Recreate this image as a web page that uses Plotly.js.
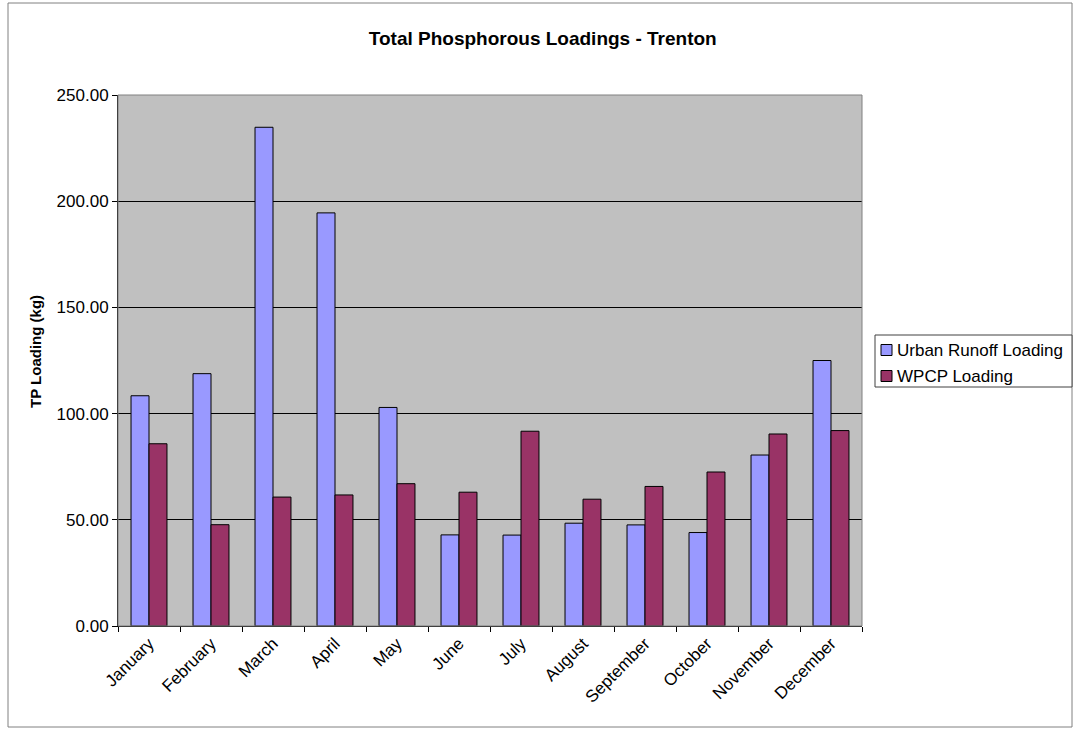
<!DOCTYPE html>
<html>
<head>
<meta charset="utf-8">
<script src="https://cdn.plot.ly/plotly-3.0.1.min.js"></script>
<style>html,body{margin:0;padding:0;background:#fff;}#chart{width:1079px;height:730px;}</style>
</head>
<body>
<div id="chart"></div>
<script>
const months = ["January","February","March","April","May","June","July","August","September","October","November","December"];
const urbanRunoff = [108.4, 118.8, 234.8, 194.5, 102.9, 42.9, 42.8, 48.4, 47.6, 44.0, 80.5, 125.0];
const wpcp = [85.8, 47.7, 60.7, 61.7, 67.0, 63.0, 91.7, 59.7, 65.7, 72.5, 90.4, 92.0];
const yTicks = [0, 50, 100, 150, 200, 250];
const seriesNames = ["Urban Runoff Loading", "WPCP Loading"];
const seriesColors = ["#9999FF", "#993366"];

const font = {family: "Liberation Sans, Arial, sans-serif", color: "#000"};
const traces = [
  {type: "bar", name: seriesNames[0], x: months, y: urbanRunoff,
   marker: {color: seriesColors[0], line: {color: "#000", width: 1}}},
  {type: "bar", name: seriesNames[1], x: months, y: wpcp,
   marker: {color: seriesColors[1], line: {color: "#000", width: 1}}}
];

// plot area in pixels: x 118..862, y 95..626
const L = 118, R = 862, T = 95, B = 626;
const px = v => (v - L) / (R - L);
const py = v => (B - v) / (B - T);

const shapes = [
  {type: "rect", xref: "paper", yref: "paper", x0: 0, x1: 1, y0: 0, y1: 1, line: {color: "#808080", width: 1}, layer: "above"},
  {type: "rect", xref: "paper", yref: "paper", x0: px(8), x1: px(1072), y0: py(727), y1: py(3), line: {color: "#808080", width: 1}},
  // legend box
  {type: "rect", xref: "paper", yref: "paper", x0: px(875), x1: px(1072), y0: py(387), y1: py(335),
   line: {color: "#404040", width: 1}, fillcolor: "#fff"}
];
const annotations = [
  {xref: "paper", yref: "paper", x: px(35), y: py(352), xanchor: "center", yanchor: "middle", textangle: -90,
   text: "<b>TP Loading (kg)</b>", showarrow: false, font: Object.assign({}, font, {size: 15})}
];
const legendRows = [350, 376];
seriesNames.forEach((n, i) => {
  const cy = legendRows[i];
  shapes.push({type: "rect", xref: "paper", yref: "paper", x0: px(881), x1: px(892), y0: py(cy + 5.5), y1: py(cy - 5.5),
               fillcolor: seriesColors[i], line: {color: "#000", width: 1}});
  annotations.push({xref: "paper", yref: "paper", x: px(895), y: py(cy), xanchor: "left", yanchor: "middle",
                    text: n, showarrow: false, font: Object.assign({}, font, {size: 17})});
});

const layout = {
  width: 1079, height: 730,
  margin: {l: L, r: 1079 - R, t: T, b: 730 - B, pad: 0},
  paper_bgcolor: "#fff", plot_bgcolor: "#C0C0C0",
  font: Object.assign({size: 17}, font),
  title: {text: "<b>Total Phosphorous Loadings - Trenton</b>", x: 0.503, xref: "container", y: 0.948, yanchor: "middle",
          font: Object.assign({}, font, {size: 19})},
  barmode: "group", bargap: 0.42, bargroupgap: 0,
  showlegend: false,
  xaxis: {type: "category", tickangle: -45, showgrid: false, showline: true, linecolor: "#000", linewidth: 1,
          ticks: "outside", tickson: "boundaries", ticklen: 5, tickcolor: "#000",
          tickfont: Object.assign({}, font, {size: 17})},
  yaxis: {range: [0, 250], tickvals: yTicks, tickformat: ".2f", showgrid: true, gridcolor: "#000", gridwidth: 1,
          showline: true, linecolor: "#000", linewidth: 1, ticks: "outside", ticklen: 5, tickcolor: "#000",
          zeroline: false, tickfont: Object.assign({}, font, {size: 17})},
  shapes: shapes,
  annotations: annotations
};
Plotly.newPlot("chart", traces, layout, {displayModeBar: false, staticPlot: true});
</script>
</body>
</html>
